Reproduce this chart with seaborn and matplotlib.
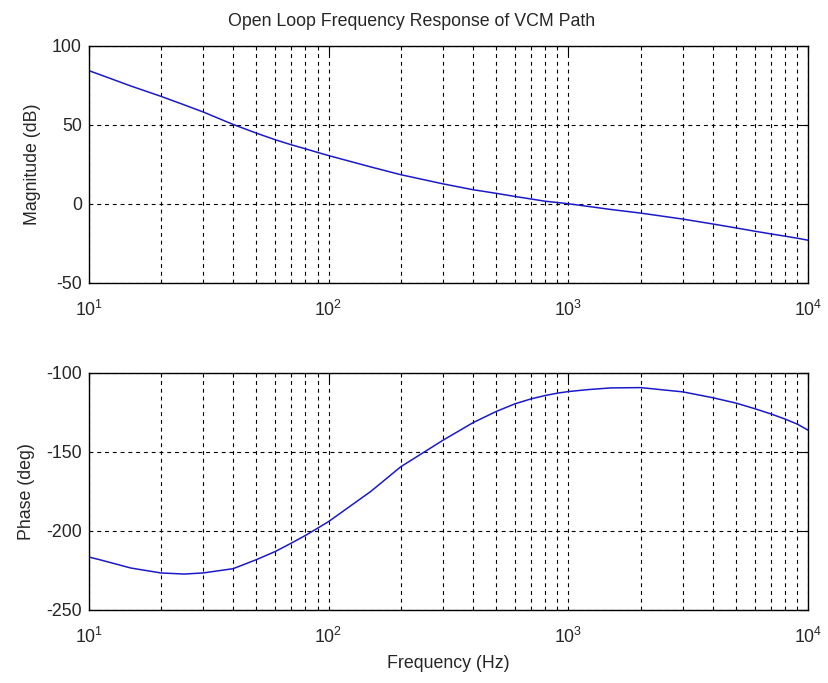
import matplotlib
matplotlib.use("Agg")
import matplotlib.pyplot as plt
import seaborn as sns
import pandas as pd
from matplotlib import font_manager
from matplotlib.ticker import LogLocator, NullFormatter

# Open-loop Bode data of the VCM path
freq_hz = [10, 11.1, 15, 20, 25, 30, 40, 50, 60, 70, 80, 90, 100, 150, 200, 300,
           400, 500, 600, 700, 800, 900, 1000, 1200, 1500, 2000, 3000, 4000,
           5000, 6000, 7000, 8000, 9000, 10000]
mag_db = [84.3, 81.8, 74.5, 68.0, 62.6, 58.1, 50.2, 44.7, 40.5, 37.3, 34.8, 32.5,
          30.5, 23.3, 18.4, 12.6, 8.9, 6.6, 4.6, 3.0, 1.6, 0.8, 0.0, -1.6, -3.6,
          -5.9, -9.7, -12.8, -15.3, -17.4, -19.1, -20.5, -21.8, -23.1]
phase_deg = [-216.5, -218.2, -223.5, -226.6, -227.3, -226.6, -223.9, -218.2,
             -213.0, -207.7, -202.9, -198.3, -194.1, -175.0, -159.4, -142.6,
             -131.5, -124.4, -119.5, -116.4, -114.3, -112.8, -111.8, -110.6,
             -109.5, -109.3, -112.0, -115.7, -119.1, -122.7, -126.0, -129.2,
             -132.4, -136.3]

df = pd.DataFrame({"freq": freq_hz, "mag": mag_db, "phase": phase_deg})

names = {f.name for f in font_manager.fontManager.ttflist}
if "Liberation Sans Narrow" in names:
    family, fs = "Liberation Sans Narrow", 15
else:
    family, fs = "Liberation Sans", 12.8

sns.set_style("white")
plt.rcParams["font.family"] = [family, "DejaVu Sans"]
plt.rcParams["mathtext.fontset"] = "custom"
plt.rcParams["mathtext.rm"] = family
plt.rcParams["mathtext.it"] = family
plt.rcParams["axes.unicode_minus"] = False

fig = plt.figure(figsize=(8.29, 6.83), dpi=100)
ax1 = fig.add_axes([0.107, 0.586, 0.868, 0.347])
ax2 = fig.add_axes([0.107, 0.107, 0.868, 0.347])

grid_kw = dict(color="black", linestyle=(0, (3.5, 3.5)), linewidth=0.8)

def style(ax, ylim, yticks):
    ax.set_xscale("log")
    ax.set_xlim(10, 1e4)
    ax.set_ylim(*ylim)
    ax.set_yticks(yticks)
    ax.xaxis.set_major_locator(LogLocator(base=10, numticks=10))
    ax.xaxis.set_minor_locator(LogLocator(base=10, subs=range(2, 10), numticks=100))
    ax.xaxis.set_minor_formatter(NullFormatter())
    ax.grid(True, which="major", axis="both", **grid_kw)
    ax.grid(True, which="minor", axis="x", **grid_kw)
    ax.tick_params(which="both", direction="in", top=True, right=True,
                   labelsize=fs, color="black")
    ax.tick_params(which="major", length=6)
    ax.tick_params(which="minor", length=3)
    ax.tick_params(axis="x", which="major", pad=12)
    ax.tick_params(axis="y", which="major", pad=5)
    for s in ax.spines.values():
        s.set_color("black")
        s.set_linewidth(1.0)
    ax.set_xlabel("")

sns.lineplot(data=df, x="freq", y="mag", ax=ax1, color="#1a1acc", linewidth=1.1)
style(ax1, (-50, 100), [-50, 0, 50, 100])
ax1.set_ylabel("Magnitude (dB)", fontsize=fs, labelpad=8)
ax1.set_title("Open Loop Frequency Response of VCM Path", fontsize=fs, pad=14,
              x=0.449)

sns.lineplot(data=df, x="freq", y="phase", ax=ax2, color="#1a1acc", linewidth=1.1)
style(ax2, (-250, -100), [-250, -200, -150, -100])
ax2.set_ylabel("Phase (deg)", fontsize=fs, labelpad=8)
ax2.set_xlabel("Frequency (Hz)", fontsize=fs, labelpad=6)

fig.savefig("out.png", dpi=100)
